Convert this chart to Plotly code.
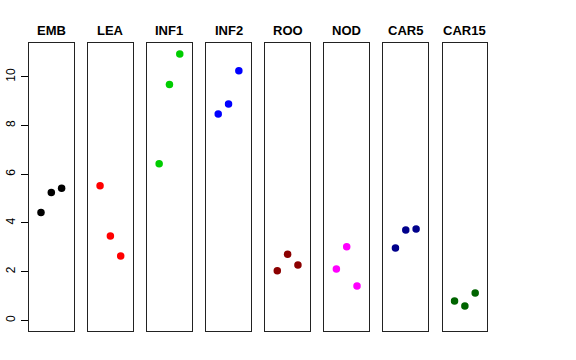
import plotly.graph_objects as go

groups = ["EMB", "LEA", "INF1", "INF2", "ROO", "NOD", "CAR5", "CAR15"]
values = {
    "EMB": [4.43, 5.25, 5.42],
    "LEA": [5.53, 3.46, 2.64],
    "INF1": [6.43, 9.69, 10.94],
    "INF2": [8.47, 8.88, 10.25],
    "ROO": [2.04, 2.71, 2.27],
    "NOD": [2.11, 3.02, 1.41],
    "CAR5": [2.97, 3.71, 3.75],
    "CAR15": [0.79, 0.59, 1.12],
}
colors = ["#000000", "#FF0000", "#00CD00", "#0000FF", "#8B0000", "#FF00FF", "#00008B", "#006400"]
replicate = [1, 2, 3]
y_ticks = [0, 2, 4, 6, 8, 10]

W, H = 576, 360
left0, pw, step = 29.0, 44.6, 59.08
top_px, bot_px = 43.3, 331.0

ymax = max(max(v) for v in values.values())
yr = [0 - 0.04 * ymax, ymax + 0.04 * ymax]
xr = [0 - 0.04 * 4, 4 + 0.04 * 4]

fig = go.Figure()
layout = dict(
    width=W, height=H, margin=dict(l=0, r=0, t=0, b=0),
    paper_bgcolor="white", plot_bgcolor="white", showlegend=False,
    font=dict(family="Liberation Sans, Arial, sans-serif", color="black"),
)
annotations = []
for i, g in enumerate(groups):
    ax = "" if i == 0 else str(i + 1)
    x0 = left0 + i * step
    x1 = x0 + pw
    fig.add_trace(go.Scatter(
        x=replicate, y=values[g], mode="markers",
        marker=dict(color=colors[i], size=7.5),
        xaxis="x" + ax, yaxis="y" + ax, hoverinfo="skip",
    ))
    layout["xaxis" + ax] = dict(
        domain=[x0 / W, x1 / W], range=xr, showgrid=False, zeroline=False,
        showticklabels=False, ticks="", showline=True, mirror=True,
        linecolor="#222222", linewidth=1, anchor="y" + ax, automargin=False,
    )
    ya = dict(
        domain=[1 - bot_px / H, 1 - top_px / H], range=yr, showgrid=False, zeroline=False,
        showline=True, mirror=True, linecolor="#222222", linewidth=1, anchor="x" + ax,
        automargin=False,
    )
    if i == 0:
        ya.update(tickvals=y_ticks, ticktext=[str(t) for t in y_ticks], ticks="outside",
                  ticklen=7, tickcolor="black", tickangle=-90, ticklabelstandoff=1,
                  tickfont=dict(size=12, color="black"))
    else:
        ya.update(showticklabels=False, ticks="")
    layout["yaxis" + ax] = ya
    annotations.append(dict(
        text="<b>" + g + "</b>", x=(x0 + x1) / 2 / W, y=1 - 30 / H,
        xref="paper", yref="paper", showarrow=False,
        font=dict(size=13, color="black"), xanchor="center", yanchor="middle",
    ))
layout["annotations"] = annotations
fig.update_layout(**layout)
fig.write_html("out.html", config={"displayModeBar": False},
               post_script="document.body.style.margin='0';document.body.style.overflow='hidden';")
